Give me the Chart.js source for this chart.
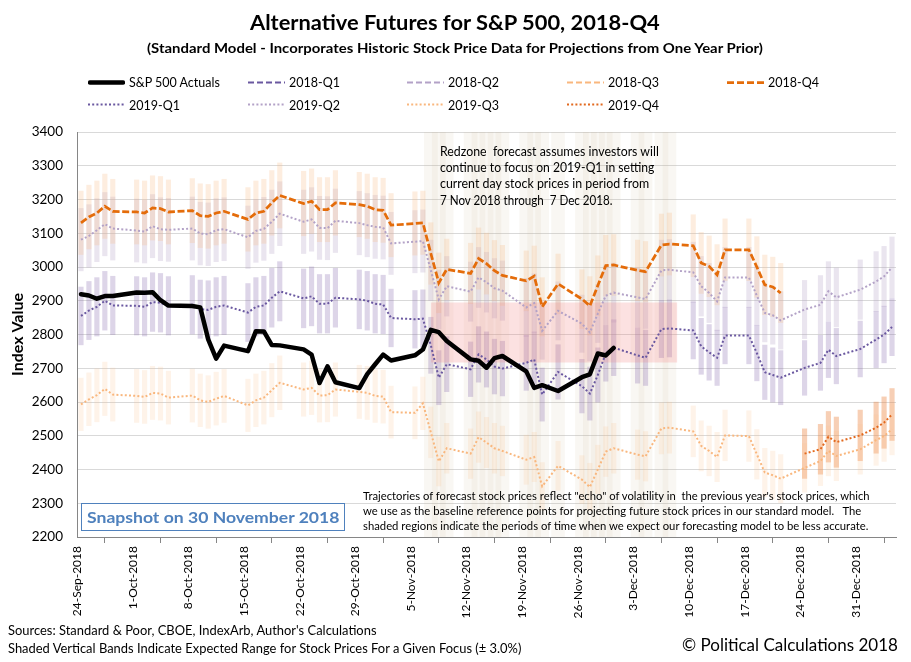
<!DOCTYPE html>
<html>
<head>
<meta charset="utf-8">
<script src="https://cdn.jsdelivr.net/npm/chart.js@4.4.1/dist/chart.umd.min.js"></script>
<style>
  html, body { margin:0; padding:0; background:#fff; }
  #wrap { position:relative; width:911px; height:662px; overflow:hidden; font-family: Lato, "Open Sans", "Liberation Sans", sans-serif; color:#000; }
  #c { position:absolute; left:0; top:0; }
  .tx { position:absolute; white-space:pre; line-height:1; transform-origin:0 50%; transform:translateY(-50%); }
  .lg { position:absolute; display:flex; align-items:center; transform:translateY(-50%); font-size:12.5px; white-space:nowrap; }
  .lg svg { margin-right:4px; display:block; }
  #snap { position:absolute; left:81px; top:503px; width:264px; height:28px; border:1px solid #4F81BD; background:#fff; box-sizing:border-box; }
</style>
</head>
<body>
<div id="wrap">
  <canvas id="c" width="911" height="662"></canvas>

  <div class="tx" data-w="410" style="left:250px;top:22px;font-size:20px;font-weight:700;">Alternative Futures for S&amp;P 500, 2018-Q4</div>
  <div class="tx" data-w="616" style="left:147px;top:48px;font-size:14px;font-weight:700;">(Standard Model - Incorporates Historic Stock Price Data for Projections from One Year Prior)</div>

  <div id="legend"></div>

  <div class="tx" data-w="219" style="left:440px;top:152px;font-size:12.5px;">Redzone  forecast assumes investors will</div>
  <div class="tx" data-w="214" style="left:440px;top:168px;font-size:12.5px;">continue to focus on 2019-Q1 in setting</div>
  <div class="tx" data-w="209" style="left:440px;top:184px;font-size:12.5px;">current day stock prices in period from</div>
  <div class="tx" data-w="173" style="left:440px;top:200.5px;font-size:12.5px;">7 Nov 2018 through  7 Dec 2018.</div>

  <div class="tx" data-w="507" style="left:363px;top:496px;font-size:11.5px;">Trajectories of forecast stock prices reflect "echo" of volatility in  the previous year's stock prices, which</div>
  <div class="tx" data-w="498" style="left:363px;top:511px;font-size:11.5px;">we use as the baseline reference points for projecting future stock prices in our standard model.   The</div>
  <div class="tx" data-w="505" style="left:363px;top:526px;font-size:11.5px;">shaded regions indicate the periods of time when we expect our forecasting model to be less accurate.</div>

  <div id="snap"></div>
  <div class="tx" data-w="252" style="left:87px;top:517px;font-size:15px;font-weight:700;color:#4F81BD;">Snapshot on 30 November 2018</div>

  <div class="tx" data-w="369" style="left:8px;top:630px;font-size:13px;">Sources: Standard &amp; Poor, CBOE, IndexArb, Author's Calculations</div>
  <div class="tx" data-w="513" style="left:8px;top:648px;font-size:13px;">Shaded Vertical Bands Indicate Expected Range for Stock Prices For a Given Focus (± 3.0%)</div>
  <div class="tx" data-w="216" style="left:682px;top:644px;font-size:17px;">© Political Calculations 2018</div>
</div>

<script>
// ---------------- DATA ----------------
const tradingDays = [
  '2018-09-24','2018-09-25','2018-09-26','2018-09-27','2018-09-28',
  '2018-10-01','2018-10-02','2018-10-03','2018-10-04','2018-10-05',
  '2018-10-08','2018-10-09','2018-10-10','2018-10-11','2018-10-12',
  '2018-10-15','2018-10-16','2018-10-17','2018-10-18','2018-10-19',
  '2018-10-22','2018-10-23','2018-10-24','2018-10-25','2018-10-26',
  '2018-10-29','2018-10-30','2018-10-31','2018-11-01','2018-11-02',
  '2018-11-05','2018-11-06','2018-11-07','2018-11-08','2018-11-09',
  '2018-11-12','2018-11-13','2018-11-14','2018-11-15','2018-11-16',
  '2018-11-19','2018-11-20','2018-11-21','2018-11-23',
  '2018-11-26','2018-11-27','2018-11-28','2018-11-29','2018-11-30',
  '2018-12-03','2018-12-04','2018-12-06','2018-12-07',
  '2018-12-10','2018-12-11','2018-12-12','2018-12-13','2018-12-14',
  '2018-12-17','2018-12-18','2018-12-19','2018-12-20','2018-12-21',
  '2018-12-24','2018-12-26','2018-12-27','2018-12-28',
  '2018-12-31','2019-01-02','2019-01-03','2019-01-04'
];

const sp500Actuals = [
  2919.37,2915.56,2905.97,2914.00,2913.98,
  2924.59,2923.43,2925.51,2901.61,2885.57,
  2884.43,2880.34,2785.68,2728.37,2767.13,
  2750.79,2809.92,2809.21,2768.78,2767.78,
  2755.88,2740.69,2656.10,2705.57,2658.69,
  2641.25,2682.63,2711.74,2740.37,2723.06,
  2738.31,2755.45,2813.89,2806.83,2781.01,
  2726.22,2722.18,2701.58,2730.20,2736.27,
  2690.73,2641.89,2649.93,2632.56,
  2673.45,2682.17,2743.79,2737.80,2760.17
];

const f2018Q4 = [
  3131,3148,3160,3180,3165, 3163,3160,3175,3173,3163,
  3167,3152,3150,3160,3165, 3141,3160,3165,3190,3212,
  3188,3195,3170,3170,3190, 3185,3180,3170,3168,3124,
  3129,3131,3040,2953,2993, 2981,3025,3010,2989,2975,
  2959,2973,2882,2950, 2905,2885,2945,3004,3006,
  2990,2986,3065,3068, 3063,3012,3002,2977,3051,
  3051,3000,2947,2941,2923
];

const f2019Q1 = [
  2855,2871,2882,2900,2886, 2885,2882,2896,2894,2885,
  2888,2875,2873,2882,2886, 2865,2882,2886,2909,2928,
  2907,2913,2891,2891,2909, 2904,2900,2891,2889,2849,
  2845,2847,2768,2672,2712, 2697,2741,2726,2705,2699,
  2716,2726,2622,2689, 2647,2625,2680,2744,2761,
  2738,2731,2816,2818, 2812,2765,2747,2731,2797,
  2797,2745,2688,2680,2672, 2701,2716,2755,2736,
  2757,2785,2800,2822
];

const f2019Q2 = [
  3081,3092,3109,3127,3114, 3108,3105,3121,3112,3110,
  3114,3099,3097,3109,3112, 3088,3107,3113,3134,3158,
  3134,3141,3116,3115,3137, 3130,3124,3119,3117,3070,
  3075,3077,2990,2904,2943, 2927,2969,2955,2937,2930,
  2880,2893,2811,2870, 2832,2806,2862,2915,2924,
  2910,2905,2990,2992, 2984,2943,2923,2898,2969,
  2969,2915,2864,2857,2842, 2874,2888,2928,2910,
  2933,2957,2972,2999
];

const f2019Q3 = [
  2593,2608,2620,2639,2622, 2618,2615,2627,2625,2613,
  2619,2605,2600,2610,2618, 2590,2605,2613,2635,2657,
  2637,2642,2619,2620,2637, 2630,2627,2618,2616,2570,
  2568,2596,2510,2424,2463, 2447,2496,2480,2463,2455,
  2429,2437,2350,2411, 2370,2348,2400,2453,2463,
  2444,2439,2522,2524, 2513,2470,2455,2437,2501,
  2499,2445,2391,2383,2373, 2405,2425,2455,2440,
  2460,2487,2499,2519
];

const f2019Q4Start = '2018-12-24';
const f2019Q4 = [2447,2460,2497,2481,2501,2524,2539,2563];

const bandPct = 3.0;
const redzoneStart = '2018-11-07';
const redzoneEnd = '2018-12-07';
const redzoneLow = 2717;
const redzoneHigh = 2895;

const yMin = 2200, yMax = 3400, yStep = 100;
const axisFirstDay = '2018-09-24';
const axisLastDay = '2019-01-06';
const tickLabels = ['24-Sep-2018','1-Oct-2018','8-Oct-2018','15-Oct-2018','22-Oct-2018','29-Oct-2018',
  '5-Nov-2018','12-Nov-2018','19-Nov-2018','26-Nov-2018','3-Dec-2018','10-Dec-2018','17-Dec-2018',
  '24-Dec-2018','31-Dec-2018'];

// ---------------- HELPERS ----------------
const DAY = 86400000;
function utc(s){ const p = s.split('-').map(Number); return Date.UTC(p[0], p[1]-1, p[2]); }
function dayIndex(s){ return (utc(s) - utc(axisFirstDay)) / DAY; }
function xOf(s){ return dayIndex(s) + 0.5; }
function pts(values, start){ const o = start ? tradingDays.indexOf(start) : 0; return values.map((v,i)=>({x:xOf(tradingDays[o+i]), y:v})); }
function band(values, start){ const o = start ? tradingDays.indexOf(start) : 0; return values.map((v,i)=>({x:xOf(tradingDays[o+i]), y:[v*(1-bandPct/100), v*(1+bandPct/100)]})); }
const redDays = tradingDays.filter(d => dayIndex(d) >= dayIndex(redzoneStart) && dayIndex(d) <= dayIndex(redzoneEnd));

// ---------------- CHART ----------------
Chart.defaults.font.family = 'Lato, "Open Sans", "Liberation Sans", sans-serif';
Chart.defaults.color = '#000';

const lineBase = { type:'line', pointRadius:0, pointHoverRadius:0, tension:0, fill:false };
const barBase = { type:'bar', grouped:false, borderWidth:0, barThickness:4.5 };
const dotted = [2, 2.2];

const datasets = [
  {...lineBase, label:'S&P 500 Actuals', data: pts(sp500Actuals), borderColor:'#000', borderWidth:4.5, borderJoinStyle:'round', borderCapStyle:'round', order:0},
  {...lineBase, label:'2018-Q4', data: pts(f2018Q4), borderColor:'#E46C0A', borderWidth:2.75, borderDash:[7,2.6], order:1},
  {...lineBase, label:'2019-Q1', data: pts(f2019Q1), borderColor:'#6A58A0', borderWidth:2, borderDash:dotted, order:2},
  {...lineBase, label:'2019-Q2', data: pts(f2019Q2), borderColor:'#B3A2C7', borderWidth:2, borderDash:dotted, order:3},
  {...lineBase, label:'2019-Q3', data: pts(f2019Q3), borderColor:'#F9B77E', borderWidth:2, borderDash:dotted, order:4},
  {...lineBase, label:'2019-Q4', data: pts(f2019Q4, f2019Q4Start), borderColor:'#E2691E', borderWidth:2, borderDash:dotted, order:5},
  {...lineBase, label:'Redzone', data:[{x:xOf(redzoneStart), y:redzoneHigh},{x:xOf(redzoneEnd)+1, y:redzoneHigh}], fill:{value:redzoneLow}, backgroundColor:'rgba(240,120,120,0.22)', borderWidth:0, order:15},
  {...barBase, label:'2018-Q4 band', data: band(f2018Q4), backgroundColor:'rgba(249,192,140,0.28)', order:20},
  {...barBase, label:'2019-Q2 band', data: band(f2019Q2), backgroundColor:'rgba(179,162,199,0.28)', order:21},
  {...barBase, label:'2019-Q1 band', data: band(f2019Q1), backgroundColor:'rgba(128,100,170,0.27)', order:22},
  {...barBase, label:'2019-Q3 band', data: band(f2019Q3), backgroundColor:'rgba(249,192,140,0.19)', order:23},
  {...barBase, label:'2019-Q4 band', data: band(f2019Q4, f2019Q4Start), backgroundColor:'rgba(235,130,60,0.38)', order:24},
  {...barBase, label:'Redzone days', data: redDays.map(d=>({x:xOf(d), y:[yMin, yMax]})), backgroundColor:'rgba(200,185,150,0.11)', barThickness:13, order:40}
];

new Chart(document.getElementById('c'), {
  type:'line',
  data:{ datasets },
  options:{
    responsive:false,
    animation:false,
    devicePixelRatio:1,
    events:[],
    layout:{ padding:{ top:132, right:15, bottom:30, left:0 } },
    plugins:{ legend:{display:false}, tooltip:{enabled:false}, title:{display:false} },
    scales:{
      x:{
        type:'linear', min:dayIndex(axisFirstDay), max:dayIndex(axisLastDay)-1, offset:false,
        ticks:{ stepSize:7, includeBounds:false, autoSkip:false, maxRotation:90, minRotation:90, padding:3,
          font:{size:12}, color:'#000',
          callback:(v)=> tickLabels[Math.round(v/7)] ?? '' },
        grid:{ drawOnChartArea:false, drawTicks:true, tickLength:6, tickColor:'#868686' },
        border:{ color:'#868686', width:1 },
        afterFit:(s)=>{ s.height = 95; }
      },
      y:{
        min:yMin, max:yMax,
        ticks:{ stepSize:yStep, padding:14, font:{size:13.5}, color:'#000', callback:(v)=> String(v) },
        grid:{ color:'#D9D9D9', drawTicks:false },
        border:{ color:'#868686', width:1 },
        title:{ display:true, text:'Index Value', font:{size:16, weight:'bold'}, color:'#000', padding:{top:8, bottom:0} },
        afterFit:(s)=>{ s.width = 77; }
      }
    }
  }
});

// ---------------- LEGEND (HTML) ----------------
const legendItems = [
  {label:'S&P 500 Actuals', color:'#000', w:4.5, dash:'', cap:'round', col:0, row:0},
  {label:'2018-Q1', color:'#6A58A0', w:2, dash:'6 3', cap:'butt', col:1, row:0},
  {label:'2018-Q2', color:'#B3A2C7', w:2, dash:'6 3', cap:'butt', col:2, row:0},
  {label:'2018-Q3', color:'#F9B77E', w:2, dash:'6 3', cap:'butt', col:3, row:0},
  {label:'2018-Q4', color:'#E46C0A', w:2.75, dash:'7 3', cap:'butt', col:4, row:0},
  {label:'2019-Q1', color:'#6A58A0', w:2, dash:'2 2.2', cap:'butt', col:0, row:1},
  {label:'2019-Q2', color:'#B3A2C7', w:2, dash:'2 2.2', cap:'butt', col:1, row:1},
  {label:'2019-Q3', color:'#F9B77E', w:2, dash:'2 2.2', cap:'butt', col:2, row:1},
  {label:'2019-Q4', color:'#E2691E', w:2, dash:'2 2.2', cap:'butt', col:3, row:1}
];
const legendCols = [88, 248, 407, 567, 727];
const legendRows = [82, 104.5];
const lg = document.getElementById('legend');
legendItems.forEach(it=>{
  const d = document.createElement('div');
  d.className = 'lg';
  d.style.left = legendCols[it.col] + 'px';
  d.style.top = legendRows[it.row] + 'px';
  d.innerHTML = `<svg width="37" height="8"><line x1="${it.cap==='round'?2:0}" y1="4" x2="${it.cap==='round'?35:37}" y2="4" stroke="${it.color}" stroke-width="${it.w}" stroke-linecap="${it.cap}" ${it.dash?`stroke-dasharray="${it.dash}"`:''}/></svg>`;
  const s = document.createElement('span'); s.textContent = it.label; d.appendChild(s);
  lg.appendChild(d);
});

// ---------------- fit text widths ----------------
function fitTexts(){
  document.querySelectorAll('.tx').forEach(el=>{
    const w = +el.dataset.w; const nat = el.offsetWidth;
    if (nat > 0) el.style.transform = `translateY(-50%) scaleX(${(w/nat).toFixed(4)})`;
  });
}
fitTexts();
if (document.fonts && document.fonts.ready) document.fonts.ready.then(fitTexts);
</script>
</body>
</html>
